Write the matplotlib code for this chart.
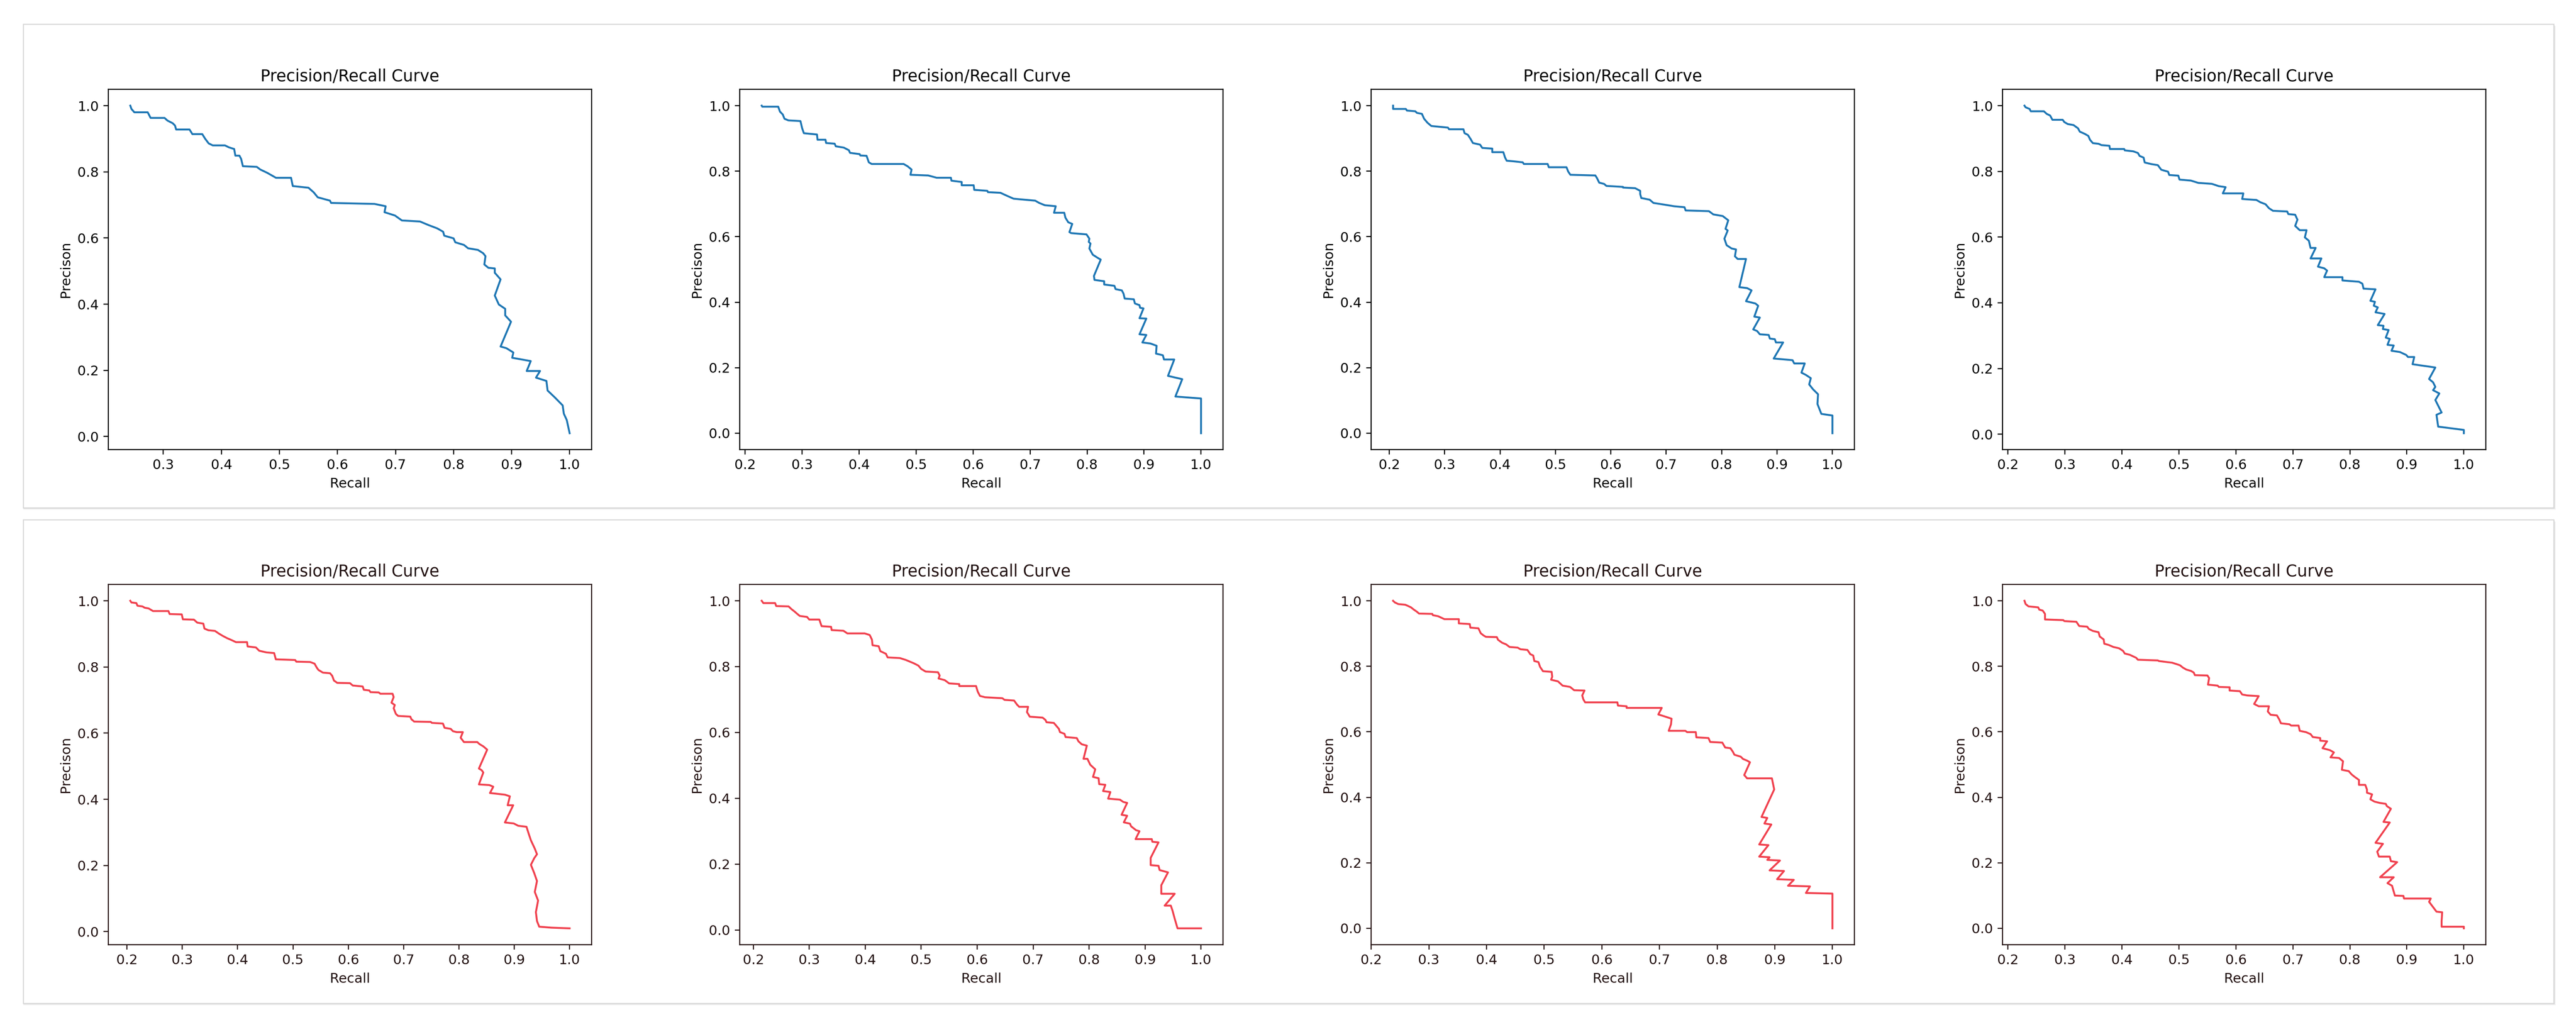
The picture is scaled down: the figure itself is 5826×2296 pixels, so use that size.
import matplotlib
matplotlib.use("Agg")
import matplotlib.pyplot as plt
from matplotlib.patches import Rectangle

# (recall, precision) vertices, one list per panel
top1 = [(0.243, 1.0), (0.245, 0.99), (0.25, 0.98), (0.273, 0.98), (0.278, 0.963), (0.302, 0.963),
        (0.307, 0.955), (0.316, 0.947), (0.32, 0.94), (0.322, 0.928), (0.345, 0.928), (0.35, 0.914),
        (0.367, 0.914), (0.372, 0.90), (0.378, 0.886), (0.385, 0.88), (0.406, 0.88), (0.413, 0.874),
        (0.422, 0.869), (0.424, 0.849), (0.431, 0.849), (0.434, 0.839), (0.437, 0.817), (0.461, 0.815),
        (0.467, 0.807), (0.479, 0.797), (0.494, 0.782), (0.52, 0.782), (0.523, 0.757), (0.55, 0.752),
        (0.559, 0.738), (0.566, 0.723), (0.587, 0.713), (0.589, 0.706), (0.664, 0.703), (0.683, 0.696),
        (0.681, 0.678), (0.699, 0.668), (0.711, 0.653), (0.742, 0.650), (0.757, 0.639), (0.772, 0.629),
        (0.782, 0.619), (0.784, 0.607), (0.80, 0.599), (0.803, 0.587), (0.818, 0.579), (0.825, 0.569),
        (0.842, 0.564), (0.851, 0.554), (0.855, 0.545), (0.853, 0.520), (0.86, 0.51), (0.871, 0.508),
        (0.871, 0.495), (0.881, 0.475), (0.871, 0.426), (0.878, 0.399), (0.889, 0.386), (0.889, 0.366),
        (0.899, 0.347), (0.881, 0.272), (0.891, 0.267), (0.903, 0.254), (0.901, 0.238), (0.933, 0.228),
        (0.926, 0.198), (0.949, 0.198), (0.942, 0.178), (0.96, 0.168), (0.962, 0.139), (0.974, 0.119),
        (0.988, 0.094), (0.99, 0.069), (0.995, 0.05), (1.0, 0.01)]

top2 = [(0.229, 1.0), (0.23, 0.997), (0.258, 0.997), (0.261, 0.982), (0.266, 0.973), (0.269, 0.96),
        (0.276, 0.955), (0.297, 0.953), (0.30, 0.931), (0.303, 0.916), (0.326, 0.912), (0.327, 0.896),
        (0.341, 0.896), (0.342, 0.886), (0.357, 0.884), (0.359, 0.876), (0.373, 0.872), (0.382, 0.864),
        (0.384, 0.856), (0.401, 0.852), (0.402, 0.848), (0.413, 0.847), (0.417, 0.827), (0.422, 0.822),
        (0.478, 0.822), (0.485, 0.815), (0.492, 0.805), (0.49, 0.789), (0.521, 0.787), (0.536, 0.78),
        (0.561, 0.78), (0.562, 0.771), (0.58, 0.767), (0.58, 0.757), (0.601, 0.757), (0.602, 0.743),
        (0.625, 0.74), (0.626, 0.736), (0.648, 0.734), (0.658, 0.726), (0.671, 0.716), (0.69, 0.713),
        (0.709, 0.71), (0.716, 0.703), (0.726, 0.696), (0.745, 0.693), (0.742, 0.673), (0.76, 0.673),
        (0.762, 0.658), (0.767, 0.644), (0.774, 0.639), (0.769, 0.614), (0.772, 0.611), (0.799, 0.607),
        (0.804, 0.594), (0.803, 0.584), (0.806, 0.579), (0.804, 0.564), (0.81, 0.545), (0.819, 0.535),
        (0.824, 0.53), (0.812, 0.48), (0.813, 0.468), (0.83, 0.464), (0.83, 0.454), (0.848, 0.45),
        (0.85, 0.44), (0.861, 0.436), (0.864, 0.426), (0.866, 0.411), (0.882, 0.409), (0.884, 0.396),
        (0.892, 0.391), (0.893, 0.383), (0.899, 0.381), (0.892, 0.351), (0.904, 0.35), (0.892, 0.302),
        (0.904, 0.30), (0.897, 0.277), (0.911, 0.274), (0.922, 0.267), (0.921, 0.243), (0.933, 0.238),
        (0.935, 0.225), (0.953, 0.225), (0.942, 0.175), (0.967, 0.165), (0.955, 0.112), (1.0, 0.106),
        (1.0, 0.0)]

top3 = [(0.207, 1.0), (0.207, 0.99), (0.23, 0.99), (0.232, 0.985), (0.247, 0.983), (0.25, 0.978),
        (0.259, 0.975), (0.263, 0.96), (0.269, 0.948), (0.276, 0.938), (0.306, 0.933), (0.308, 0.928),
        (0.334, 0.928), (0.336, 0.916), (0.342, 0.911), (0.347, 0.898), (0.351, 0.886), (0.364, 0.881),
        (0.368, 0.871), (0.386, 0.869), (0.386, 0.858), (0.406, 0.858), (0.409, 0.842), (0.412, 0.832),
        (0.425, 0.83), (0.441, 0.827), (0.443, 0.822), (0.486, 0.822), (0.488, 0.812), (0.52, 0.812),
        (0.523, 0.799), (0.527, 0.789), (0.572, 0.787), (0.575, 0.779), (0.579, 0.765), (0.588, 0.761),
        (0.592, 0.755), (0.622, 0.752), (0.622, 0.75), (0.644, 0.748), (0.653, 0.74), (0.653, 0.73),
        (0.655, 0.718), (0.67, 0.713), (0.677, 0.703), (0.696, 0.698), (0.714, 0.693), (0.733, 0.69),
        (0.735, 0.68), (0.777, 0.678), (0.785, 0.668), (0.802, 0.663), (0.812, 0.65), (0.807, 0.624),
        (0.811, 0.619), (0.805, 0.594), (0.809, 0.574), (0.818, 0.564), (0.826, 0.561), (0.824, 0.54),
        (0.829, 0.532), (0.844, 0.532), (0.832, 0.446), (0.846, 0.443), (0.854, 0.436), (0.844, 0.403),
        (0.854, 0.399), (0.861, 0.396), (0.866, 0.389), (0.859, 0.356), (0.869, 0.353), (0.857, 0.317),
        (0.864, 0.312), (0.869, 0.302), (0.885, 0.30), (0.887, 0.289), (0.896, 0.287), (0.898, 0.277),
        (0.911, 0.277), (0.894, 0.228), (0.928, 0.223), (0.931, 0.213), (0.95, 0.213), (0.944, 0.185),
        (0.952, 0.178), (0.961, 0.168), (0.958, 0.149), (0.965, 0.134), (0.974, 0.119), (0.973, 0.089),
        (0.98, 0.059), (1.0, 0.054), (1.0, 0.0)]

top4 = [(0.229, 1.0), (0.231, 0.995), (0.238, 0.99), (0.24, 0.983), (0.263, 0.983), (0.268, 0.975),
        (0.274, 0.97), (0.278, 0.957), (0.296, 0.957), (0.299, 0.95), (0.305, 0.944), (0.315, 0.941),
        (0.323, 0.931), (0.326, 0.921), (0.335, 0.914), (0.341, 0.908), (0.344, 0.896), (0.349, 0.886),
        (0.359, 0.884), (0.364, 0.88), (0.378, 0.878), (0.379, 0.868), (0.404, 0.868), (0.405, 0.864),
        (0.42, 0.861), (0.428, 0.856), (0.431, 0.847), (0.438, 0.842), (0.44, 0.827), (0.452, 0.822),
        (0.463, 0.819), (0.469, 0.805), (0.481, 0.799), (0.483, 0.789), (0.499, 0.787), (0.501, 0.775),
        (0.521, 0.772), (0.534, 0.765), (0.558, 0.762), (0.57, 0.755), (0.582, 0.752), (0.577, 0.733),
        (0.613, 0.733), (0.611, 0.716), (0.636, 0.713), (0.643, 0.706), (0.652, 0.70), (0.658, 0.688),
        (0.665, 0.68), (0.69, 0.678), (0.692, 0.67), (0.704, 0.668), (0.708, 0.653), (0.704, 0.634),
        (0.712, 0.621), (0.724, 0.621), (0.721, 0.599), (0.728, 0.589), (0.731, 0.567), (0.74, 0.567),
        (0.731, 0.535), (0.75, 0.535), (0.744, 0.51), (0.755, 0.505), (0.76, 0.498), (0.755, 0.478),
        (0.787, 0.478), (0.787, 0.468), (0.816, 0.464), (0.822, 0.458), (0.824, 0.443), (0.845, 0.441),
        (0.836, 0.406), (0.844, 0.403), (0.842, 0.391), (0.849, 0.386), (0.845, 0.371), (0.861, 0.366),
        (0.849, 0.332), (0.859, 0.33), (0.858, 0.32), (0.868, 0.317), (0.863, 0.294), (0.87, 0.29),
        (0.866, 0.272), (0.877, 0.27), (0.873, 0.254), (0.888, 0.25), (0.899, 0.241), (0.902, 0.235),
        (0.913, 0.235), (0.91, 0.213), (0.95, 0.203), (0.939, 0.168), (0.946, 0.158), (0.95, 0.144),
        (0.946, 0.134), (0.957, 0.124), (0.95, 0.104), (0.961, 0.066), (0.952, 0.059), (0.955, 0.023),
        (1.0, 0.013), (1.0, 0.003)]

bot1 = [(0.206, 1.0), (0.208, 0.995), (0.217, 0.993), (0.219, 0.985), (0.228, 0.983), (0.232, 0.979),
        (0.239, 0.977), (0.247, 0.969), (0.275, 0.969), (0.277, 0.96), (0.299, 0.959), (0.301, 0.944),
        (0.321, 0.943), (0.327, 0.934), (0.338, 0.931), (0.34, 0.916), (0.347, 0.911), (0.359, 0.909),
        (0.366, 0.901), (0.373, 0.894), (0.381, 0.887), (0.388, 0.882), (0.397, 0.875), (0.417, 0.875),
        (0.418, 0.862), (0.433, 0.859), (0.439, 0.849), (0.452, 0.844), (0.466, 0.842), (0.469, 0.823),
        (0.504, 0.821), (0.506, 0.816), (0.531, 0.815), (0.539, 0.81), (0.543, 0.798), (0.546, 0.791),
        (0.554, 0.783), (0.567, 0.781), (0.571, 0.773), (0.574, 0.759), (0.58, 0.752), (0.603, 0.751),
        (0.608, 0.744), (0.626, 0.741), (0.628, 0.731), (0.638, 0.729), (0.64, 0.724), (0.655, 0.723),
        (0.658, 0.719), (0.68, 0.719), (0.682, 0.709), (0.678, 0.692), (0.684, 0.685), (0.682, 0.675),
        (0.686, 0.658), (0.69, 0.652), (0.712, 0.65), (0.714, 0.642), (0.719, 0.635), (0.749, 0.634),
        (0.751, 0.631), (0.771, 0.629), (0.774, 0.616), (0.785, 0.613), (0.789, 0.606), (0.796, 0.603),
        (0.807, 0.603), (0.803, 0.586), (0.809, 0.573), (0.833, 0.573), (0.837, 0.567), (0.844, 0.56),
        (0.851, 0.55), (0.836, 0.493), (0.841, 0.488), (0.844, 0.481), (0.836, 0.445), (0.855, 0.443),
        (0.862, 0.438), (0.856, 0.419), (0.883, 0.414), (0.892, 0.409), (0.888, 0.382), (0.898, 0.382),
        (0.883, 0.33), (0.899, 0.327), (0.907, 0.32), (0.922, 0.317), (0.926, 0.296), (0.93, 0.276),
        (0.937, 0.251), (0.941, 0.234), (0.936, 0.222), (0.93, 0.202), (0.936, 0.177), (0.941, 0.153),
        (0.937, 0.12), (0.943, 0.094), (0.939, 0.059), (0.941, 0.032), (0.945, 0.015), (0.967, 0.012),
        (1.0, 0.01)]

bot2 = [(0.215, 1.0), (0.218, 0.993), (0.239, 0.993), (0.241, 0.984), (0.263, 0.983), (0.268, 0.975),
        (0.274, 0.967), (0.278, 0.961), (0.283, 0.954), (0.296, 0.951), (0.30, 0.943), (0.318, 0.943),
        (0.322, 0.923), (0.339, 0.921), (0.34, 0.911), (0.361, 0.909), (0.368, 0.901), (0.399, 0.901),
        (0.408, 0.896), (0.412, 0.882), (0.413, 0.865), (0.424, 0.862), (0.427, 0.847), (0.437, 0.839),
        (0.44, 0.828), (0.462, 0.826), (0.473, 0.82), (0.487, 0.81), (0.495, 0.803), (0.50, 0.793),
        (0.508, 0.785), (0.53, 0.783), (0.533, 0.773), (0.531, 0.764), (0.542, 0.759), (0.55, 0.749),
        (0.568, 0.747), (0.568, 0.741), (0.598, 0.741), (0.601, 0.724), (0.605, 0.711), (0.614, 0.707),
        (0.645, 0.704), (0.649, 0.699), (0.666, 0.697), (0.671, 0.685), (0.675, 0.678), (0.691, 0.678),
        (0.689, 0.662), (0.694, 0.648), (0.717, 0.645), (0.722, 0.638), (0.724, 0.631), (0.737, 0.629),
        (0.741, 0.621), (0.746, 0.611), (0.748, 0.601), (0.756, 0.596), (0.758, 0.586), (0.778, 0.583),
        (0.781, 0.573), (0.787, 0.564), (0.796, 0.56), (0.79, 0.52), (0.797, 0.52), (0.802, 0.502),
        (0.811, 0.488), (0.807, 0.465), (0.817, 0.461), (0.818, 0.443), (0.829, 0.441), (0.825, 0.422),
        (0.838, 0.419), (0.834, 0.399), (0.855, 0.396), (0.861, 0.389), (0.868, 0.386), (0.858, 0.35),
        (0.868, 0.347), (0.862, 0.327), (0.873, 0.323), (0.875, 0.315), (0.884, 0.303), (0.89, 0.30),
        (0.883, 0.276), (0.912, 0.276), (0.913, 0.268), (0.924, 0.266), (0.91, 0.219), (0.91, 0.197),
        (0.924, 0.195), (0.926, 0.182), (0.941, 0.175), (0.929, 0.136), (0.929, 0.11), (0.953, 0.11),
        (0.935, 0.074), (0.946, 0.074), (0.949, 0.059), (0.953, 0.034), (0.958, 0.005), (1.0, 0.005)]

bot3 = [(0.238, 1.0), (0.241, 0.995), (0.247, 0.99), (0.259, 0.988), (0.263, 0.985), (0.269, 0.98),
        (0.274, 0.973), (0.279, 0.967), (0.283, 0.961), (0.306, 0.96), (0.307, 0.956), (0.316, 0.953),
        (0.327, 0.944), (0.352, 0.944), (0.352, 0.931), (0.371, 0.929), (0.372, 0.918), (0.386, 0.916),
        (0.39, 0.901), (0.395, 0.894), (0.399, 0.89), (0.418, 0.889), (0.42, 0.881), (0.427, 0.872),
        (0.434, 0.867), (0.44, 0.859), (0.454, 0.857), (0.459, 0.852), (0.471, 0.85), (0.476, 0.837),
        (0.481, 0.833), (0.483, 0.816), (0.49, 0.813), (0.493, 0.798), (0.498, 0.785), (0.513, 0.783),
        (0.514, 0.768), (0.512, 0.759), (0.524, 0.754), (0.532, 0.741), (0.545, 0.737), (0.552, 0.727),
        (0.57, 0.726), (0.566, 0.711), (0.568, 0.699), (0.571, 0.69), (0.627, 0.69), (0.628, 0.68),
        (0.643, 0.678), (0.643, 0.673), (0.704, 0.673), (0.698, 0.653), (0.709, 0.647), (0.721, 0.64),
        (0.72, 0.623), (0.716, 0.603), (0.745, 0.603), (0.748, 0.599), (0.763, 0.599), (0.764, 0.583),
        (0.785, 0.581), (0.788, 0.569), (0.809, 0.567), (0.814, 0.552), (0.823, 0.55), (0.827, 0.54),
        (0.83, 0.53), (0.841, 0.524), (0.845, 0.517), (0.852, 0.512), (0.857, 0.507), (0.847, 0.468),
        (0.852, 0.458), (0.895, 0.458), (0.899, 0.424), (0.877, 0.34), (0.887, 0.337), (0.882, 0.32),
        (0.894, 0.317), (0.873, 0.256), (0.889, 0.254), (0.873, 0.219), (0.891, 0.217), (0.887, 0.209),
        (0.909, 0.207), (0.891, 0.177), (0.916, 0.175), (0.904, 0.15), (0.933, 0.148), (0.923, 0.13),
        (0.961, 0.128), (0.954, 0.108), (1.0, 0.106), (1.0, 0.0)]

bot4 = [(0.229, 1.0), (0.231, 0.99), (0.236, 0.983), (0.253, 0.98), (0.255, 0.973), (0.261, 0.97),
        (0.265, 0.96), (0.265, 0.943), (0.297, 0.941), (0.299, 0.938), (0.32, 0.936), (0.325, 0.923),
        (0.339, 0.921), (0.342, 0.914), (0.349, 0.908), (0.359, 0.904), (0.361, 0.891), (0.368, 0.882),
        (0.369, 0.869), (0.377, 0.865), (0.385, 0.859), (0.395, 0.855), (0.402, 0.847), (0.405, 0.839),
        (0.414, 0.835), (0.42, 0.83), (0.425, 0.826), (0.428, 0.82), (0.463, 0.818), (0.465, 0.816),
        (0.488, 0.811), (0.497, 0.806), (0.502, 0.803), (0.507, 0.796), (0.513, 0.79), (0.521, 0.786),
        (0.526, 0.781), (0.528, 0.773), (0.55, 0.772), (0.553, 0.764), (0.551, 0.744), (0.568, 0.741),
        (0.57, 0.737), (0.589, 0.736), (0.589, 0.726), (0.607, 0.724), (0.611, 0.714), (0.62, 0.711),
        (0.64, 0.709), (0.632, 0.685), (0.64, 0.678), (0.658, 0.678), (0.656, 0.662), (0.661, 0.652),
        (0.672, 0.65), (0.676, 0.638), (0.679, 0.626), (0.694, 0.623), (0.697, 0.619), (0.71, 0.619),
        (0.712, 0.603), (0.723, 0.599), (0.731, 0.593), (0.735, 0.584), (0.748, 0.581), (0.748, 0.573),
        (0.76, 0.571), (0.752, 0.55), (0.765, 0.544), (0.772, 0.537), (0.766, 0.522), (0.781, 0.52),
        (0.788, 0.51), (0.786, 0.484), (0.798, 0.48), (0.803, 0.47), (0.808, 0.463), (0.816, 0.453),
        (0.816, 0.438), (0.827, 0.438), (0.83, 0.424), (0.83, 0.414), (0.839, 0.409), (0.836, 0.394),
        (0.843, 0.387), (0.852, 0.383), (0.863, 0.38), (0.865, 0.373), (0.872, 0.365), (0.859, 0.325),
        (0.87, 0.323), (0.845, 0.261), (0.858, 0.258), (0.848, 0.234), (0.851, 0.219), (0.87, 0.219),
        (0.872, 0.205), (0.883, 0.202), (0.853, 0.156), (0.877, 0.156), (0.866, 0.138), (0.874, 0.13),
        (0.879, 0.10), (0.894, 0.099), (0.895, 0.091), (0.942, 0.091), (0.939, 0.081), (0.952, 0.051),
        (0.962, 0.049), (0.961, 0.022), (0.961, 0.005), (1.0, 0.005), (1.0, 0.0)]

rows = [[top1, top2, top3, top4], [bot1, bot2, bot3, bot4]]
line_colors = ["#1f77b4", "#f0424f"]
text_colors = ["black", "#221010"]

W, H = 5826, 2296
fig = plt.figure(figsize=(W / 220, H / 220), dpi=220)
fig.patch.set_facecolor("white")

# the two light "cards" behind each row (pixel boxes)
cards = [(53, 55, 5776, 1149), (53, 1176, 5776, 2270)]
for x0, y0, x1, y1 in cards:
    for k, a in [(4, 0.05), (2, 0.08)]:
        fig.patches.append(Rectangle((x0 / W, 1 - (y1 + k) / H), (x1 - x0 + k) / W, (y1 - y0) / H,
                                     transform=fig.transFigure, facecolor="#000000", alpha=a,
                                     edgecolor="none", zorder=0))
    fig.patches.append(Rectangle((x0 / W, 1 - y1 / H), (x1 - x0) / W, (y1 - y0) / H,
                                 transform=fig.transFigure, facecolor="white",
                                 edgecolor="#d8d8d8", linewidth=0.8, zorder=1))

ax_w, ax_h = 1093, 815
tops = [202, 1322]
for r, row in enumerate(rows):
    tc = text_colors[r]
    for c, pts in enumerate(row):
        left = 245 + c * 1428
        ax = fig.add_axes([left / W, 1 - (tops[r] + ax_h) / H, ax_w / W, ax_h / H])
        ax.set_zorder(2)
        rec = [p[0] for p in pts]
        prec = [p[1] for p in pts]
        ax.plot(rec, prec, color=line_colors[r], linewidth=1.4)
        ax.set_title("Precision/Recall Curve", color=tc)
        ax.set_xlabel("Recall", color=tc)
        ax.set_ylabel("Precison", color=tc)
        ax.tick_params(colors=tc)
        for s in ax.spines.values():
            s.set_color(tc)

fig.savefig("out.png", dpi=220)
